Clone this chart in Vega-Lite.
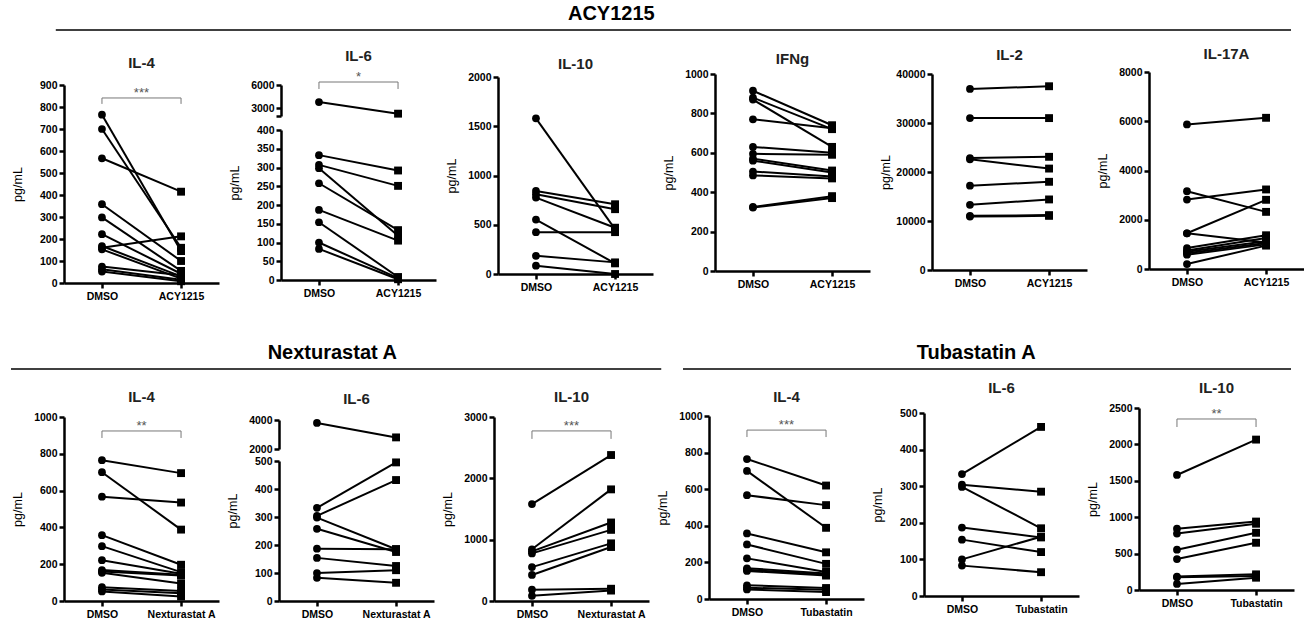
{
"$schema": "https://vega.github.io/schema/vega-lite/v6.json",
"padding": {"left": 10, "top": 3, "right": 0, "bottom": 0},
"background": "white",
"spacing": 0,
"config": {
 "view": {"stroke": null},
 "font": "Liberation Sans",
 "title": {"fontSize": 15, "fontWeight": "bold", "color": "#222", "frame": "group", "baseline": "alphabetic", "anchor": "middle"},
 "axis": {"domainColor": "black", "domainWidth": 2.5, "tickColor": "black", "tickWidth": 2.5, "tickSize": 5, "labelFontWeight": "bold", "labelFontSize": 10.5, "labelColor": "black", "titleFontWeight": "normal", "titleFontSize": 12.5, "titleColor": "black", "grid": false, "labelFont": "Liberation Sans", "titleFont": "Liberation Sans"},
 "axisY": {"minExtent": 34, "maxExtent": 34, "titlePadding": 6, "labelPadding": 2, "format": "d", "labelOverlap": false},
 "axisX": {"labelAngle": 0, "labelPadding": 3},
 "point": {"filled": true, "color": "black", "opacity": 1}
},
"datasets": {
 "h": [
  {"g": 1, "label": "ACY1215", "from": 0.035, "to": 1, "at": 0.469},
  {"g": 2, "label": "Nexturastat A", "from": 0, "to": 0.508, "at": 0.251},
  {"g": 2, "label": "Tubastatin A", "from": 0.525, "to": 1, "at": 0.754}
 ],
 "s": [
  {"p": "a4", "a": "DMSO", "b": "ACY1215", "top": 841, "leg": 814, "lab": "***"},
  {"p": "a6", "a": "DMSO", "b": "ACY1215", "top": 6387, "leg": 5484, "lab": "*"},
  {"p": "n4", "a": "DMSO", "b": "Nexturastat A", "top": 924, "leg": 886, "lab": "**"},
  {"p": "n10", "a": "DMSO", "b": "Nexturastat A", "top": 2773, "leg": 2643, "lab": "***"},
  {"p": "t4", "a": "DMSO", "b": "Tubastatin", "top": 923, "leg": 885, "lab": "***"},
  {"p": "t10", "a": "DMSO", "b": "Tubastatin", "top": 2349, "leg": 2239, "lab": "**"}
 ],
 "d": [
  {"p": "a4", "id": 1, "DMSO": 765, "ACY1215": 145},
  {"p": "a4", "id": 2, "DMSO": 700, "ACY1215": 160},
  {"p": "a4", "id": 3, "DMSO": 567, "ACY1215": 415},
  {"p": "a4", "id": 4, "DMSO": 358, "ACY1215": 100},
  {"p": "a4", "id": 5, "DMSO": 298, "ACY1215": 55},
  {"p": "a4", "id": 6, "DMSO": 222, "ACY1215": 42},
  {"p": "a4", "id": 7, "DMSO": 168, "ACY1215": 30},
  {"p": "a4", "id": 8, "DMSO": 160, "ACY1215": 212},
  {"p": "a4", "id": 9, "DMSO": 153, "ACY1215": 20},
  {"p": "a4", "id": 10, "DMSO": 75, "ACY1215": 35},
  {"p": "a4", "id": 11, "DMSO": 62, "ACY1215": 15},
  {"p": "a4", "id": 12, "DMSO": 52, "ACY1215": 8},
  {"p": "a6", "id": 1, "DMSO": 3800, "ACY1215": 2300},
  {"p": "a6", "id": 2, "DMSO": 333, "ACY1215": 292},
  {"p": "a6", "id": 3, "DMSO": 307, "ACY1215": 251},
  {"p": "a6", "id": 4, "DMSO": 298, "ACY1215": 118},
  {"p": "a6", "id": 5, "DMSO": 258, "ACY1215": 133},
  {"p": "a6", "id": 6, "DMSO": 187, "ACY1215": 105},
  {"p": "a6", "id": 7, "DMSO": 154, "ACY1215": 8},
  {"p": "a6", "id": 8, "DMSO": 100, "ACY1215": 5},
  {"p": "a6", "id": 9, "DMSO": 83, "ACY1215": 2},
  {"p": "a10", "id": 1, "DMSO": 1580, "ACY1215": 455},
  {"p": "a10", "id": 2, "DMSO": 843, "ACY1215": 708},
  {"p": "a10", "id": 3, "DMSO": 810, "ACY1215": 658},
  {"p": "a10", "id": 4, "DMSO": 776, "ACY1215": 470},
  {"p": "a10", "id": 5, "DMSO": 553, "ACY1215": 108},
  {"p": "a10", "id": 6, "DMSO": 425, "ACY1215": 425},
  {"p": "a10", "id": 7, "DMSO": 185, "ACY1215": 118},
  {"p": "a10", "id": 8, "DMSO": 84, "ACY1215": 0},
  {"p": "aI", "id": 1, "DMSO": 915, "ACY1215": 740},
  {"p": "aI", "id": 2, "DMSO": 880, "ACY1215": 720},
  {"p": "aI", "id": 3, "DMSO": 870, "ACY1215": 630},
  {"p": "aI", "id": 4, "DMSO": 770, "ACY1215": 725},
  {"p": "aI", "id": 5, "DMSO": 630, "ACY1215": 600},
  {"p": "aI", "id": 6, "DMSO": 595, "ACY1215": 590},
  {"p": "aI", "id": 7, "DMSO": 570, "ACY1215": 510},
  {"p": "aI", "id": 8, "DMSO": 560, "ACY1215": 500},
  {"p": "aI", "id": 9, "DMSO": 505, "ACY1215": 480},
  {"p": "aI", "id": 10, "DMSO": 485, "ACY1215": 470},
  {"p": "aI", "id": 11, "DMSO": 325, "ACY1215": 380},
  {"p": "aI", "id": 12, "DMSO": 322, "ACY1215": 370},
  {"p": "a2", "id": 1, "DMSO": 36950, "ACY1215": 37500},
  {"p": "a2", "id": 2, "DMSO": 31000, "ACY1215": 31000},
  {"p": "a2", "id": 3, "DMSO": 22850, "ACY1215": 23100},
  {"p": "a2", "id": 4, "DMSO": 22600, "ACY1215": 20700},
  {"p": "a2", "id": 5, "DMSO": 17200, "ACY1215": 18000},
  {"p": "a2", "id": 6, "DMSO": 13300, "ACY1215": 14400},
  {"p": "a2", "id": 7, "DMSO": 11050, "ACY1215": 11200},
  {"p": "a2", "id": 8, "DMSO": 10900, "ACY1215": 11050},
  {"p": "a17", "id": 1, "DMSO": 5870, "ACY1215": 6140},
  {"p": "a17", "id": 2, "DMSO": 3160, "ACY1215": 2320},
  {"p": "a17", "id": 3, "DMSO": 2820, "ACY1215": 3230},
  {"p": "a17", "id": 4, "DMSO": 1450, "ACY1215": 2810},
  {"p": "a17", "id": 5, "DMSO": 1450, "ACY1215": 1080},
  {"p": "a17", "id": 6, "DMSO": 850, "ACY1215": 1370},
  {"p": "a17", "id": 7, "DMSO": 750, "ACY1215": 1260},
  {"p": "a17", "id": 8, "DMSO": 700, "ACY1215": 1130},
  {"p": "a17", "id": 9, "DMSO": 640, "ACY1215": 1060},
  {"p": "a17", "id": 10, "DMSO": 580, "ACY1215": 1000},
  {"p": "a17", "id": 11, "DMSO": 200, "ACY1215": 950},
  {"p": "n4", "id": 1, "DMSO": 765, "Nexturastat A": 695},
  {"p": "n4", "id": 2, "DMSO": 700, "Nexturastat A": 388},
  {"p": "n4", "id": 3, "DMSO": 567, "Nexturastat A": 535},
  {"p": "n4", "id": 4, "DMSO": 358, "Nexturastat A": 197},
  {"p": "n4", "id": 5, "DMSO": 298, "Nexturastat A": 157},
  {"p": "n4", "id": 6, "DMSO": 222, "Nexturastat A": 148},
  {"p": "n4", "id": 7, "DMSO": 168, "Nexturastat A": 142},
  {"p": "n4", "id": 8, "DMSO": 160, "Nexturastat A": 138},
  {"p": "n4", "id": 9, "DMSO": 153, "Nexturastat A": 95},
  {"p": "n4", "id": 10, "DMSO": 75, "Nexturastat A": 55},
  {"p": "n4", "id": 11, "DMSO": 62, "Nexturastat A": 42},
  {"p": "n4", "id": 12, "DMSO": 52, "Nexturastat A": 25},
  {"p": "n6", "id": 1, "DMSO": 3800, "Nexturastat A": 2800},
  {"p": "n6", "id": 2, "DMSO": 333, "Nexturastat A": 495},
  {"p": "n6", "id": 3, "DMSO": 304, "Nexturastat A": 432},
  {"p": "n6", "id": 4, "DMSO": 298, "Nexturastat A": 185},
  {"p": "n6", "id": 5, "DMSO": 258, "Nexturastat A": 175},
  {"p": "n6", "id": 6, "DMSO": 187, "Nexturastat A": 185},
  {"p": "n6", "id": 7, "DMSO": 154, "Nexturastat A": 125},
  {"p": "n6", "id": 8, "DMSO": 100, "Nexturastat A": 110},
  {"p": "n6", "id": 9, "DMSO": 83, "Nexturastat A": 65},
  {"p": "n10", "id": 1, "DMSO": 1580, "Nexturastat A": 2380},
  {"p": "n10", "id": 2, "DMSO": 843, "Nexturastat A": 1820},
  {"p": "n10", "id": 3, "DMSO": 810, "Nexturastat A": 1280},
  {"p": "n10", "id": 4, "DMSO": 776, "Nexturastat A": 1160},
  {"p": "n10", "id": 5, "DMSO": 553, "Nexturastat A": 940},
  {"p": "n10", "id": 6, "DMSO": 425, "Nexturastat A": 880},
  {"p": "n10", "id": 7, "DMSO": 185, "Nexturastat A": 200},
  {"p": "n10", "id": 8, "DMSO": 84, "Nexturastat A": 170},
  {"p": "t4", "id": 1, "DMSO": 765, "Tubastatin": 620},
  {"p": "t4", "id": 2, "DMSO": 700, "Tubastatin": 389},
  {"p": "t4", "id": 3, "DMSO": 567, "Tubastatin": 513},
  {"p": "t4", "id": 4, "DMSO": 358, "Tubastatin": 255},
  {"p": "t4", "id": 5, "DMSO": 298, "Tubastatin": 192},
  {"p": "t4", "id": 6, "DMSO": 222, "Tubastatin": 148},
  {"p": "t4", "id": 7, "DMSO": 168, "Tubastatin": 140},
  {"p": "t4", "id": 8, "DMSO": 160, "Tubastatin": 133},
  {"p": "t4", "id": 9, "DMSO": 153, "Tubastatin": 128},
  {"p": "t4", "id": 10, "DMSO": 75, "Tubastatin": 60},
  {"p": "t4", "id": 11, "DMSO": 62, "Tubastatin": 50},
  {"p": "t4", "id": 12, "DMSO": 52, "Tubastatin": 38},
  {"p": "t6", "id": 1, "DMSO": 333, "Tubastatin": 462},
  {"p": "t6", "id": 2, "DMSO": 304, "Tubastatin": 285},
  {"p": "t6", "id": 3, "DMSO": 298, "Tubastatin": 185},
  {"p": "t6", "id": 4, "DMSO": 187, "Tubastatin": 160},
  {"p": "t6", "id": 5, "DMSO": 154, "Tubastatin": 120},
  {"p": "t6", "id": 6, "DMSO": 100, "Tubastatin": 162},
  {"p": "t6", "id": 7, "DMSO": 83, "Tubastatin": 65},
  {"p": "t10", "id": 1, "DMSO": 1580, "Tubastatin": 2066},
  {"p": "t10", "id": 2, "DMSO": 843, "Tubastatin": 940},
  {"p": "t10", "id": 3, "DMSO": 776, "Tubastatin": 910},
  {"p": "t10", "id": 4, "DMSO": 553, "Tubastatin": 786},
  {"p": "t10", "id": 5, "DMSO": 425, "Tubastatin": 649},
  {"p": "t10", "id": 6, "DMSO": 185, "Tubastatin": 215},
  {"p": "t10", "id": 7, "DMSO": 175, "Tubastatin": 192},
  {"p": "t10", "id": 8, "DMSO": 84, "Tubastatin": 169}
 ]
},
"vconcat": [
 {
  "width": 1227, "height": 42.5,
  "data": {"name": "h"},
  "transform": [{"filter": "datum.g==1"}],
  "layer": [
   {"mark": {"type": "rule", "color": "black", "strokeWidth": 1.5},
    "encoding": {"x": {"field": "from", "type": "quantitative", "scale": {"domain": [0, 1], "range": [-53, 1227], "nice": false, "zero": false}, "axis": null},
                 "x2": {"field": "to"},
                 "y": {"datum": 0.365, "type": "quantitative", "scale": {"domain": [0, 1], "nice": false}, "axis": null}}},
   {"mark": {"type": "text", "fontSize": 20, "fontWeight": "bold", "baseline": "middle", "color": "black"},
    "encoding": {"x": {"field": "at", "type": "quantitative", "axis": null},
                 "y": {"datum": 0.741, "type": "quantitative", "axis": null},
                 "text": {"field": "label"}}}
  ]
 },
 {
  "hconcat": [
   {
    "width": 155, "height": 211, "title": {"text": "IL-4", "offset": 1.5},
    "encoding": {
     "x": {"field": "c", "type": "nominal", "title": null, "scale": {"type": "point", "domain": ["DMSO", "ACY1215"], "padding": 0.48}, "axis": {"offset": 0}},
     "y": {"field": "v", "type": "quantitative", "title": "pg/mL", "scale": {"domain": [0, 900], "range": [211, 13], "nice": false, "zero": false}, "axis": {"values": [0, 100, 200, 300, 400, 500, 600, 700, 800, 900]}}
    },
    "layer": [
     {"data": {"name": "d"}, "transform": [{"filter": "datum.p=='a4'"}, {"fold": ["DMSO", "ACY1215", "Nexturastat A", "Tubastatin"], "as": ["c", "v"]}, {"filter": "isValid(datum.v)"}],
      "layer": [
       {"mark": {"type": "line", "color": "black", "strokeWidth": 2}, "encoding": {"detail": {"field": "id"}}},
       {"transform": [{"filter": "datum.c=='DMSO'"}], "mark": {"type": "point", "shape": "circle", "size": 60}},
       {"transform": [{"filter": "datum.c!='DMSO'"}], "mark": {"type": "point", "shape": "square", "size": 62}}
      ]},
     {"data": {"name": "s"}, "transform": [{"filter": "datum.p=='a4'"}],
      "layer": [
       {"mark": {"type": "rule", "color": "#777", "strokeWidth": 1}, "encoding": {"x": {"field": "a", "type": "nominal", "title": null}, "x2": {"field": "b"}, "y": {"field": "top", "type": "quantitative", "title": "pg/mL"}}},
       {"mark": {"type": "rule", "color": "#777", "strokeWidth": 1}, "encoding": {"x": {"field": "a", "type": "nominal", "title": null}, "y": {"field": "top", "type": "quantitative", "title": "pg/mL"}, "y2": {"field": "leg"}}},
       {"mark": {"type": "rule", "color": "#777", "strokeWidth": 1}, "encoding": {"x": {"field": "b", "type": "nominal", "title": null}, "y": {"field": "top", "type": "quantitative", "title": "pg/mL"}, "y2": {"field": "leg"}}},
       {"mark": {"type": "text", "dx": 39.5, "dy": -1, "baseline": "alphabetic", "fontSize": 13, "color": "#555"}, "encoding": {"x": {"field": "a", "type": "nominal", "title": null}, "y": {"field": "top", "type": "quantitative", "title": "pg/mL"}, "text": {"field": "lab"}}}
      ]}
    ]
   },
   {
    "width": 155, "height": 211, "title": {"text": "IL-6", "offset": 7.5},
    "encoding": {
     "x": {"field": "c", "type": "nominal", "title": null, "scale": {"type": "point", "domain": ["DMSO", "ACY1215"], "padding": 0.48}, "axis": {"offset": -3}},
     "y": {"field": "v", "type": "quantitative", "title": "pg/mL", "scale": {"domain": [0, 400, 2000, 6000], "range": [208, 58, 44, 13], "nice": false, "zero": false}, "axis": {"values": [0, 50, 100, 150, 200, 250, 300, 350, 400, 2000, 3000, 6000], "labelExpr": "datum.value == 2000 ? '' : datum.label", "domainDash": [150, 14, 100]}}
    },
    "layer": [
     {"data": {"name": "d"}, "transform": [{"filter": "datum.p=='a6'"}, {"fold": ["DMSO", "ACY1215", "Nexturastat A", "Tubastatin"], "as": ["c", "v"]}, {"filter": "isValid(datum.v)"}],
      "layer": [
       {"mark": {"type": "line", "color": "black", "strokeWidth": 2}, "encoding": {"detail": {"field": "id"}}},
       {"transform": [{"filter": "datum.c=='DMSO'"}], "mark": {"type": "point", "shape": "circle", "size": 60}},
       {"transform": [{"filter": "datum.c!='DMSO'"}], "mark": {"type": "point", "shape": "square", "size": 62}}
      ]},
     {"data": {"name": "s"}, "transform": [{"filter": "datum.p=='a6'"}],
      "layer": [
       {"mark": {"type": "rule", "color": "#777", "strokeWidth": 1}, "encoding": {"x": {"field": "a", "type": "nominal", "title": null}, "x2": {"field": "b"}, "y": {"field": "top", "type": "quantitative", "title": "pg/mL"}}},
       {"mark": {"type": "rule", "color": "#777", "strokeWidth": 1}, "encoding": {"x": {"field": "a", "type": "nominal", "title": null}, "y": {"field": "top", "type": "quantitative", "title": "pg/mL"}, "y2": {"field": "leg"}}},
       {"mark": {"type": "rule", "color": "#777", "strokeWidth": 1}, "encoding": {"x": {"field": "b", "type": "nominal", "title": null}, "y": {"field": "top", "type": "quantitative", "title": "pg/mL"}, "y2": {"field": "leg"}}},
       {"mark": {"type": "text", "dx": 39.5, "dy": -1, "baseline": "alphabetic", "fontSize": 13, "color": "#555"}, "encoding": {"x": {"field": "a", "type": "nominal", "title": null}, "y": {"field": "top", "type": "quantitative", "title": "pg/mL"}, "text": {"field": "lab"}}}
      ]}
    ]
   },
   {
    "width": 155, "height": 211, "title": {"text": "IL-10", "offset": 0.5},
    "encoding": {
     "x": {"field": "c", "type": "nominal", "title": null, "scale": {"type": "point", "domain": ["DMSO", "ACY1215"], "padding": 0.48}, "axis": {"offset": -9}},
     "y": {"field": "v", "type": "quantitative", "title": "pg/mL", "scale": {"domain": [0, 2000], "range": [202, 5], "nice": false, "zero": false}, "axis": {"values": [0, 500, 1000, 1500, 2000]}}
    },
    "layer": [
     {"data": {"name": "d"}, "transform": [{"filter": "datum.p=='a10'"}, {"fold": ["DMSO", "ACY1215", "Nexturastat A", "Tubastatin"], "as": ["c", "v"]}, {"filter": "isValid(datum.v)"}],
      "layer": [
       {"mark": {"type": "line", "color": "black", "strokeWidth": 2}, "encoding": {"detail": {"field": "id"}}},
       {"transform": [{"filter": "datum.c=='DMSO'"}], "mark": {"type": "point", "shape": "circle", "size": 60}},
       {"transform": [{"filter": "datum.c!='DMSO'"}], "mark": {"type": "point", "shape": "square", "size": 62}}
      ]}
    ]
   },
   {
    "width": 155, "height": 211, "title": {"text": "IFNg", "offset": 2.5},
    "encoding": {
     "x": {"field": "c", "type": "nominal", "title": null, "scale": {"type": "point", "domain": ["DMSO", "ACY1215"], "padding": 0.48}, "axis": {"offset": -12}},
     "y": {"field": "v", "type": "quantitative", "title": "pg/mL", "scale": {"domain": [0, 1000], "range": [199, 2], "nice": false, "zero": false}, "axis": {"values": [0, 200, 400, 600, 800, 1000]}}
    },
    "layer": [
     {"data": {"name": "d"}, "transform": [{"filter": "datum.p=='aI'"}, {"fold": ["DMSO", "ACY1215", "Nexturastat A", "Tubastatin"], "as": ["c", "v"]}, {"filter": "isValid(datum.v)"}],
      "layer": [
       {"mark": {"type": "line", "color": "black", "strokeWidth": 2}, "encoding": {"detail": {"field": "id"}}},
       {"transform": [{"filter": "datum.c=='DMSO'"}], "mark": {"type": "point", "shape": "circle", "size": 60}},
       {"transform": [{"filter": "datum.c!='DMSO'"}], "mark": {"type": "point", "shape": "square", "size": 62}}
      ]}
    ]
   },
   {
    "width": 155, "height": 211, "title": {"text": "IL-2", "offset": 6.5},
    "encoding": {
     "x": {"field": "c", "type": "nominal", "title": null, "scale": {"type": "point", "domain": ["DMSO", "ACY1215"], "padding": 0.48}, "axis": {"offset": -13}},
     "y": {"field": "v", "type": "quantitative", "title": "pg/mL", "scale": {"domain": [0, 40000], "range": [198, 2], "nice": false, "zero": false}, "axis": {"values": [0, 10000, 20000, 30000, 40000]}}
    },
    "layer": [
     {"data": {"name": "d"}, "transform": [{"filter": "datum.p=='a2'"}, {"fold": ["DMSO", "ACY1215", "Nexturastat A", "Tubastatin"], "as": ["c", "v"]}, {"filter": "isValid(datum.v)"}],
      "layer": [
       {"mark": {"type": "line", "color": "black", "strokeWidth": 2}, "encoding": {"detail": {"field": "id"}}},
       {"transform": [{"filter": "datum.c=='DMSO'"}], "mark": {"type": "point", "shape": "circle", "size": 60}},
       {"transform": [{"filter": "datum.c!='DMSO'"}], "mark": {"type": "point", "shape": "square", "size": 62}}
      ]}
    ]
   },
   {
    "width": 155, "height": 211, "title": {"text": "IL-17A", "offset": 5.5},
    "encoding": {
     "x": {"field": "c", "type": "nominal", "title": null, "scale": {"type": "point", "domain": ["DMSO", "ACY1215"], "padding": 0.48}, "axis": {"offset": -14}},
     "y": {"field": "v", "type": "quantitative", "title": "pg/mL", "scale": {"domain": [0, 8000], "range": [197, 0], "nice": false, "zero": false}, "axis": {"values": [0, 2000, 4000, 6000, 8000]}}
    },
    "layer": [
     {"data": {"name": "d"}, "transform": [{"filter": "datum.p=='a17'"}, {"fold": ["DMSO", "ACY1215", "Nexturastat A", "Tubastatin"], "as": ["c", "v"]}, {"filter": "isValid(datum.v)"}],
      "layer": [
       {"mark": {"type": "line", "color": "black", "strokeWidth": 2}, "encoding": {"detail": {"field": "id"}}},
       {"transform": [{"filter": "datum.c=='DMSO'"}], "mark": {"type": "point", "shape": "circle", "size": 60}},
       {"transform": [{"filter": "datum.c!='DMSO'"}], "mark": {"type": "point", "shape": "square", "size": 62}}
      ]}
    ]
   }
  ],
  "spacing": 62,
  "bounds": "flush"
 },
 {
  "width": 1227, "height": 79,
  "data": {"name": "h"},
  "transform": [{"filter": "datum.g==2"}],
  "layer": [
   {"mark": {"type": "rule", "color": "black", "strokeWidth": 1.5},
    "encoding": {"x": {"field": "from", "type": "quantitative", "scale": {"domain": [0, 1], "range": [-53, 1227], "nice": false, "zero": false}, "axis": null},
                 "x2": {"field": "to"},
                 "y": {"datum": 0.152, "type": "quantitative", "scale": {"domain": [0, 1], "nice": false}, "axis": null}}},
   {"mark": {"type": "text", "fontSize": 20, "fontWeight": "bold", "baseline": "middle", "color": "black"},
    "encoding": {"x": {"field": "at", "type": "quantitative", "axis": null},
                 "y": {"datum": 0.354, "type": "quantitative", "axis": null},
                 "text": {"field": "label"}}}
  ]
 },
 {
  "hconcat": [
   {
    "width": 155, "height": 193, "title": {"text": "IL-4", "offset": 3},
    "encoding": {
     "x": {"field": "c", "type": "nominal", "title": null, "scale": {"type": "point", "domain": ["DMSO", "Nexturastat A"], "padding": 0.48}, "axis": {"offset": 0}},
     "y": {"field": "v", "type": "quantitative", "title": "pg/mL", "scale": {"domain": [0, 1000], "range": [193, 9], "nice": false, "zero": false}, "axis": {"values": [0, 200, 400, 600, 800, 1000]}}
    },
    "layer": [
     {"data": {"name": "d"}, "transform": [{"filter": "datum.p=='n4'"}, {"fold": ["DMSO", "ACY1215", "Nexturastat A", "Tubastatin"], "as": ["c", "v"]}, {"filter": "isValid(datum.v)"}],
      "layer": [
       {"mark": {"type": "line", "color": "black", "strokeWidth": 2}, "encoding": {"detail": {"field": "id"}}},
       {"transform": [{"filter": "datum.c=='DMSO'"}], "mark": {"type": "point", "shape": "circle", "size": 60}},
       {"transform": [{"filter": "datum.c!='DMSO'"}], "mark": {"type": "point", "shape": "square", "size": 62}}
      ]},
     {"data": {"name": "s"}, "transform": [{"filter": "datum.p=='n4'"}],
      "layer": [
       {"mark": {"type": "rule", "color": "#777", "strokeWidth": 1}, "encoding": {"x": {"field": "a", "type": "nominal", "title": null}, "x2": {"field": "b"}, "y": {"field": "top", "type": "quantitative", "title": "pg/mL"}}},
       {"mark": {"type": "rule", "color": "#777", "strokeWidth": 1}, "encoding": {"x": {"field": "a", "type": "nominal", "title": null}, "y": {"field": "top", "type": "quantitative", "title": "pg/mL"}, "y2": {"field": "leg"}}},
       {"mark": {"type": "rule", "color": "#777", "strokeWidth": 1}, "encoding": {"x": {"field": "b", "type": "nominal", "title": null}, "y": {"field": "top", "type": "quantitative", "title": "pg/mL"}, "y2": {"field": "leg"}}},
       {"mark": {"type": "text", "dx": 39.5, "dy": -1, "baseline": "alphabetic", "fontSize": 13, "color": "#555"}, "encoding": {"x": {"field": "a", "type": "nominal", "title": null}, "y": {"field": "top", "type": "quantitative", "title": "pg/mL"}, "text": {"field": "lab"}}}
      ]}
    ]
   },
   {
    "width": 155, "height": 193, "title": {"text": "IL-6", "offset": 1},
    "encoding": {
     "x": {"field": "c", "type": "nominal", "title": null, "scale": {"type": "point", "domain": ["DMSO", "Nexturastat A"], "padding": 0.48}, "axis": {"offset": 0}},
     "y": {"field": "v", "type": "quantitative", "title": "pg/mL", "scale": {"domain": [0, 500, 2000, 4000], "range": [193, 53, 41, 12], "nice": false, "zero": false}, "axis": {"values": [0, 100, 200, 300, 400, 500, 2000, 4000], "domainDash": [140, 12, 100]}}
    },
    "layer": [
     {"data": {"name": "d"}, "transform": [{"filter": "datum.p=='n6'"}, {"fold": ["DMSO", "ACY1215", "Nexturastat A", "Tubastatin"], "as": ["c", "v"]}, {"filter": "isValid(datum.v)"}],
      "layer": [
       {"mark": {"type": "line", "color": "black", "strokeWidth": 2}, "encoding": {"detail": {"field": "id"}}},
       {"transform": [{"filter": "datum.c=='DMSO'"}], "mark": {"type": "point", "shape": "circle", "size": 60}},
       {"transform": [{"filter": "datum.c!='DMSO'"}], "mark": {"type": "point", "shape": "square", "size": 62}}
      ]}
    ]
   },
   {
    "width": 155, "height": 193, "title": {"text": "IL-10", "offset": 3},
    "encoding": {
     "x": {"field": "c", "type": "nominal", "title": null, "scale": {"type": "point", "domain": ["DMSO", "Nexturastat A"], "padding": 0.48}, "axis": {"offset": 0}},
     "y": {"field": "v", "type": "quantitative", "title": "pg/mL", "scale": {"domain": [0, 3000], "range": [193, 9], "nice": false, "zero": false}, "axis": {"values": [0, 1000, 2000, 3000]}}
    },
    "layer": [
     {"data": {"name": "d"}, "transform": [{"filter": "datum.p=='n10'"}, {"fold": ["DMSO", "ACY1215", "Nexturastat A", "Tubastatin"], "as": ["c", "v"]}, {"filter": "isValid(datum.v)"}],
      "layer": [
       {"mark": {"type": "line", "color": "black", "strokeWidth": 2}, "encoding": {"detail": {"field": "id"}}},
       {"transform": [{"filter": "datum.c=='DMSO'"}], "mark": {"type": "point", "shape": "circle", "size": 60}},
       {"transform": [{"filter": "datum.c!='DMSO'"}], "mark": {"type": "point", "shape": "square", "size": 62}}
      ]},
     {"data": {"name": "s"}, "transform": [{"filter": "datum.p=='n10'"}],
      "layer": [
       {"mark": {"type": "rule", "color": "#777", "strokeWidth": 1}, "encoding": {"x": {"field": "a", "type": "nominal", "title": null}, "x2": {"field": "b"}, "y": {"field": "top", "type": "quantitative", "title": "pg/mL"}}},
       {"mark": {"type": "rule", "color": "#777", "strokeWidth": 1}, "encoding": {"x": {"field": "a", "type": "nominal", "title": null}, "y": {"field": "top", "type": "quantitative", "title": "pg/mL"}, "y2": {"field": "leg"}}},
       {"mark": {"type": "rule", "color": "#777", "strokeWidth": 1}, "encoding": {"x": {"field": "b", "type": "nominal", "title": null}, "y": {"field": "top", "type": "quantitative", "title": "pg/mL"}, "y2": {"field": "leg"}}},
       {"mark": {"type": "text", "dx": 39.5, "dy": -1, "baseline": "alphabetic", "fontSize": 13, "color": "#555"}, "encoding": {"x": {"field": "a", "type": "nominal", "title": null}, "y": {"field": "top", "type": "quantitative", "title": "pg/mL"}, "text": {"field": "lab"}}}
      ]}
    ]
   },
   {
    "width": 155, "height": 193, "title": {"text": "IL-4", "offset": 3},
    "encoding": {
     "x": {"field": "c", "type": "nominal", "title": null, "scale": {"type": "point", "domain": ["DMSO", "Tubastatin"], "padding": 0.48}, "axis": {"offset": -2}},
     "y": {"field": "v", "type": "quantitative", "title": "pg/mL", "scale": {"domain": [0, 1000], "range": [191, 8], "nice": false, "zero": false}, "axis": {"values": [0, 200, 400, 600, 800, 1000]}}
    },
    "layer": [
     {"data": {"name": "d"}, "transform": [{"filter": "datum.p=='t4'"}, {"fold": ["DMSO", "ACY1215", "Nexturastat A", "Tubastatin"], "as": ["c", "v"]}, {"filter": "isValid(datum.v)"}],
      "layer": [
       {"mark": {"type": "line", "color": "black", "strokeWidth": 2}, "encoding": {"detail": {"field": "id"}}},
       {"transform": [{"filter": "datum.c=='DMSO'"}], "mark": {"type": "point", "shape": "circle", "size": 60}},
       {"transform": [{"filter": "datum.c!='DMSO'"}], "mark": {"type": "point", "shape": "square", "size": 62}}
      ]},
     {"data": {"name": "s"}, "transform": [{"filter": "datum.p=='t4'"}],
      "layer": [
       {"mark": {"type": "rule", "color": "#777", "strokeWidth": 1}, "encoding": {"x": {"field": "a", "type": "nominal", "title": null}, "x2": {"field": "b"}, "y": {"field": "top", "type": "quantitative", "title": "pg/mL"}}},
       {"mark": {"type": "rule", "color": "#777", "strokeWidth": 1}, "encoding": {"x": {"field": "a", "type": "nominal", "title": null}, "y": {"field": "top", "type": "quantitative", "title": "pg/mL"}, "y2": {"field": "leg"}}},
       {"mark": {"type": "rule", "color": "#777", "strokeWidth": 1}, "encoding": {"x": {"field": "b", "type": "nominal", "title": null}, "y": {"field": "top", "type": "quantitative", "title": "pg/mL"}, "y2": {"field": "leg"}}},
       {"mark": {"type": "text", "dx": 39.5, "dy": -1, "baseline": "alphabetic", "fontSize": 13, "color": "#555"}, "encoding": {"x": {"field": "a", "type": "nominal", "title": null}, "y": {"field": "top", "type": "quantitative", "title": "pg/mL"}, "text": {"field": "lab"}}}
      ]}
    ]
   },
   {
    "width": 155, "height": 193, "title": {"text": "IL-6", "offset": 12},
    "encoding": {
     "x": {"field": "c", "type": "nominal", "title": null, "scale": {"type": "point", "domain": ["DMSO", "Tubastatin"], "padding": 0.48}, "axis": {"offset": -5}},
     "y": {"field": "v", "type": "quantitative", "title": "pg/mL", "scale": {"domain": [0, 500], "range": [188, 5], "nice": false, "zero": false}, "axis": {"values": [0, 100, 200, 300, 400, 500]}}
    },
    "layer": [
     {"data": {"name": "d"}, "transform": [{"filter": "datum.p=='t6'"}, {"fold": ["DMSO", "ACY1215", "Nexturastat A", "Tubastatin"], "as": ["c", "v"]}, {"filter": "isValid(datum.v)"}],
      "layer": [
       {"mark": {"type": "line", "color": "black", "strokeWidth": 2}, "encoding": {"detail": {"field": "id"}}},
       {"transform": [{"filter": "datum.c=='DMSO'"}], "mark": {"type": "point", "shape": "circle", "size": 60}},
       {"transform": [{"filter": "datum.c!='DMSO'"}], "mark": {"type": "point", "shape": "square", "size": 62}}
      ]}
    ]
   },
   {
    "width": 155, "height": 193, "title": {"text": "IL-10", "offset": 7},
    "encoding": {
     "x": {"field": "c", "type": "nominal", "title": null, "scale": {"type": "point", "domain": ["DMSO", "Tubastatin"], "padding": 0.48}, "axis": {"offset": -11}},
     "y": {"field": "v", "type": "quantitative", "title": "pg/mL", "scale": {"domain": [0, 2500], "range": [182, 0], "nice": false, "zero": false}, "axis": {"values": [0, 500, 1000, 1500, 2000, 2500]}}
    },
    "layer": [
     {"data": {"name": "d"}, "transform": [{"filter": "datum.p=='t10'"}, {"fold": ["DMSO", "ACY1215", "Nexturastat A", "Tubastatin"], "as": ["c", "v"]}, {"filter": "isValid(datum.v)"}],
      "layer": [
       {"mark": {"type": "line", "color": "black", "strokeWidth": 2}, "encoding": {"detail": {"field": "id"}}},
       {"transform": [{"filter": "datum.c=='DMSO'"}], "mark": {"type": "point", "shape": "circle", "size": 60}},
       {"transform": [{"filter": "datum.c!='DMSO'"}], "mark": {"type": "point", "shape": "square", "size": 62}}
      ]},
     {"data": {"name": "s"}, "transform": [{"filter": "datum.p=='t10'"}],
      "layer": [
       {"mark": {"type": "rule", "color": "#777", "strokeWidth": 1}, "encoding": {"x": {"field": "a", "type": "nominal", "title": null}, "x2": {"field": "b"}, "y": {"field": "top", "type": "quantitative", "title": "pg/mL"}}},
       {"mark": {"type": "rule", "color": "#777", "strokeWidth": 1}, "encoding": {"x": {"field": "a", "type": "nominal", "title": null}, "y": {"field": "top", "type": "quantitative", "title": "pg/mL"}, "y2": {"field": "leg"}}},
       {"mark": {"type": "rule", "color": "#777", "strokeWidth": 1}, "encoding": {"x": {"field": "b", "type": "nominal", "title": null}, "y": {"field": "top", "type": "quantitative", "title": "pg/mL"}, "y2": {"field": "leg"}}},
       {"mark": {"type": "text", "dx": 39.5, "dy": -1, "baseline": "alphabetic", "fontSize": 13, "color": "#555"}, "encoding": {"x": {"field": "a", "type": "nominal", "title": null}, "y": {"field": "top", "type": "quantitative", "title": "pg/mL"}, "text": {"field": "lab"}}}
      ]}
    ]
   }
  ],
  "spacing": 60,
  "bounds": "flush"
 }
]
}
